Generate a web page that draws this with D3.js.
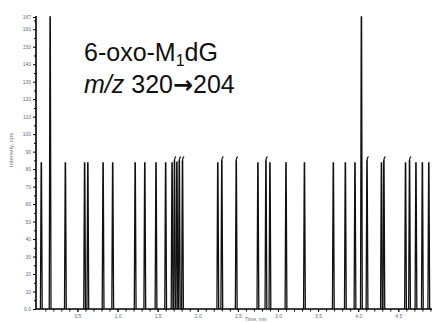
<!DOCTYPE html>
<html>
<head>
<meta charset="utf-8">
<script src="https://cdn.jsdelivr.net/npm/d3@7"></script>
<style>
  body { margin: 0; background: #fff; }
  svg { display: block; }
</style>
</head>
<body>
<svg id="chart" width="434" height="322"></svg>
<script>
// retention times (min) of every peak in the trace
var peakTimes = [0.05, 0.16, 0.35, 0.59, 0.63, 0.82, 0.94, 1.22, 1.34, 1.48, 1.60,
  1.68, 1.71, 1.74, 1.77, 1.81, 2.25, 2.30, 2.48, 2.75, 2.85, 2.90, 3.10, 3.33,
  3.69, 3.84, 3.96, 4.04, 4.11, 4.29, 4.32, 4.59, 4.64, 4.72, 4.80, 4.88];
// intensity (cps)
var peakHeights = [83.5, 167, 83.5, 83.5, 83.5, 83.5, 83.5, 83.5, 83.5, 83.5, 83.5,
  83.5, 84.5, 84, 84.5, 84.5, 83.5, 84.5, 84.5, 83.5, 84.5, 83.5, 83.5, 83.5,
  83.5, 83.5, 83.5, 167, 84.5, 83.5, 84.5, 83.5, 84.5, 83.5, 83.5, 83.5];
// peaks whose apex curls to the right
var hooked = [1.71, 1.77, 1.81, 2.30, 2.48, 2.85, 4.11, 4.32, 4.64];

var yTicks = [0, 10, 20, 30, 40, 50, 60, 70, 80, 90, 100, 110, 120, 130, 140, 150, 160, 167];
var xTickLabels = [0.5, 1.0, 1.5, 2.0, 2.5, 3.0, 3.5, 4.0, 4.5];

var svg = d3.select("#chart");
var x = d3.scaleLinear().domain([0, 4.92]).range([37.3, 432]);
var y = d3.scaleLinear().domain([0, 167]).range([309, 17]);

// y axis
var yAxis = d3.axisLeft(y)
  .tickValues(yTicks)
  .tickSize(3)
  .tickPadding(2)
  .tickFormat(function (d) { return d === 0 ? "0.0" : d; });
var yMinor = d3.axisLeft(y)
  .tickValues(d3.range(5, 166, 10))
  .tickSize(2)
  .tickFormat("");

var gy = svg.append("g").attr("transform", "translate(36,0)").call(yAxis);
svg.append("g").attr("transform", "translate(36,0)").call(yMinor)
  .call(function (g) { g.select(".domain").remove(); });

// x axis
var xAxis = d3.axisBottom(x)
  .tickValues(xTickLabels)
  .tickSize(3)
  .tickPadding(2)
  .tickFormat(d3.format(".1f"));
var xMinor = d3.axisBottom(x)
  .tickValues(d3.range(0.1, 4.91, 0.1))
  .tickSize(2.5)
  .tickFormat("");
var gx = svg.append("g").attr("transform", "translate(0,309)").call(xAxis);
svg.append("g").attr("transform", "translate(0,309)").call(xMinor)
  .call(function (g) { g.select(".domain").remove(); });

svg.selectAll(".domain").attr("stroke", "#000").attr("stroke-width", 1.6);
svg.selectAll(".tick line").attr("stroke", "#000").attr("stroke-width", 1);
svg.selectAll(".tick text")
  .attr("fill", "#5e6e80")
  .style("font-family", "Liberation Sans, Arial, sans-serif")
  .style("font-size", "5px");
gx.select(".domain").attr("d", "M36,0H432");
gy.select(".domain").attr("d", "M0,309V16");

// peaks
var line = d3.line().x(function (p) { return x(p[0]); }).y(function (p) { return y(p[1]); });
var halfW = 0.011;
svg.append("g").selectAll("path.peak")
  .data(peakTimes)
  .enter()
  .append("path")
  .attr("class", "peak")
  .attr("d", function (t, i) {
    var h = peakHeights[i];
    return line([[t - halfW, 0], [t - 0.002, h], [t + 0.002, h], [t + halfW, 0]]);
  })
  .attr("fill", "none")
  .attr("stroke", "#111")
  .attr("stroke-width", 1.3);

svg.append("g").selectAll("path.hook")
  .data(hooked)
  .enter()
  .append("path")
  .attr("class", "hook")
  .attr("d", function (t) {
    var h = peakHeights[peakTimes.indexOf(t)];
    return d3.line().curve(d3.curveBasis)
      .x(function (p) { return x(p[0]); }).y(function (p) { return y(p[1]); })
      ([[t - 0.002, h], [t + 0.004, h + 2.2], [t + 0.022, h + 2.6]]);
  })
  .attr("fill", "none")
  .attr("stroke", "#111")
  .attr("stroke-width", 1.2);

// axis titles
svg.append("text")
  .attr("transform", "translate(13,150) rotate(-90)")
  .attr("text-anchor", "middle")
  .attr("fill", "#6a7888")
  .style("font-family", "Liberation Sans, Arial, sans-serif")
  .style("font-size", "6px")
  .text("Intensity, cps");
svg.append("text")
  .attr("x", 256).attr("y", 321)
  .attr("text-anchor", "middle")
  .attr("fill", "#6a7888")
  .style("font-family", "Liberation Sans, Arial, sans-serif")
  .style("font-size", "5px")
  .text("Time, min");

// compound annotation
var ann = svg.append("g")
  .style("font-family", "Liberation Sans, Arial, sans-serif")
  .attr("fill", "#111");
var t1 = ann.append("text").attr("x", 84).attr("y", 61).style("font-size", "25px");
t1.append("tspan").text("6-oxo-M");
t1.append("tspan").attr("dy", 5).style("font-size", "16px").text("1");
t1.append("tspan").attr("dy", -5).text("dG");
var t2 = ann.append("text").attr("x", 84).attr("y", 93).style("font-size", "25px");
t2.append("tspan").style("font-style", "italic").text("m/z");
t2.append("tspan").text(" 320");
t2.append("tspan").style("font-family", "DejaVu Sans").style("font-weight", "bold")
  .style("font-size", "24px").text("\u2192");
t2.append("tspan").text("204");
</script>
</body>
</html>
